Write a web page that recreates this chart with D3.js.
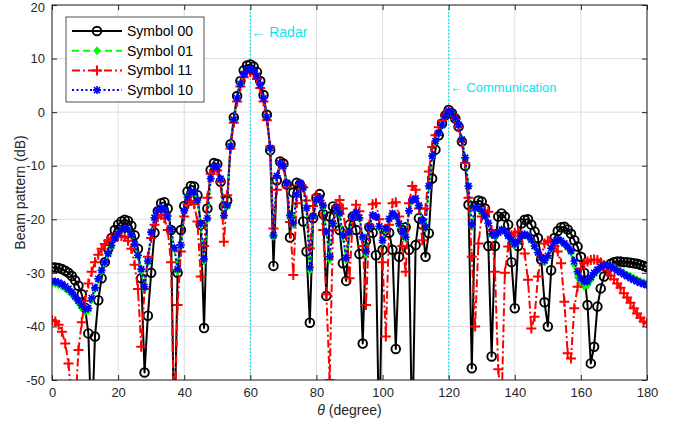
<!DOCTYPE html>
<html><head><meta charset="utf-8">
<script src="https://cdn.jsdelivr.net/npm/d3@7"></script>
<style>
html,body{margin:0;padding:0;background:#fff;}
svg{display:block;}
text{font-family:"Liberation Sans",Arial,sans-serif;}
</style></head>
<body>
<svg id="chart" width="680" height="424"></svg>
<script>
// ---------- data ----------
const thetaDeg = d3.range(0, 181, 1);
const xTicks = [0,20,40,60,80,100,120,140,160,180];
const yTicks = [20,10,0,-10,-20,-30,-40,-50];
const seriesNames = ["Symbol 00","Symbol 01","Symbol 11","Symbol 10"];
const annotations = [{x:60,label:"\u2190 Radar"},{x:120,label:"\u2190 Communication"}];

const s00 = [-29.0,-29.0,-29.1,-29.3,-29.6,-30.0,-30.6,-31.4,-32.4,-34.0,
-36.5,-41.3,-60,-41.9,-35.1,-31.0,-28.0,-25.5,-23.5,-22.0,
-21.0,-20.4,-20.1,-20.3,-21.2,-23.0,-25.5,-31.0,-48.6,-38.0,
-30.0,-22.5,-18.5,-17.0,-16.8,-18.0,-22.0,-62,-30.0,-22.0,
-17.5,-14.8,-13.8,-13.9,-15.5,-21.0,-40.3,-18.0,-10.8,-9.5,
-9.7,-13.0,-17.6,-16.5,-6.0,-1.0,3.0,5.8,7.8,8.7,
8.9,8.5,7.5,5.8,3.2,-0.5,-7.1,-28.7,-12.7,-9.2,
-9.6,-13.5,-23.4,-15.0,-13.2,-13.5,-20.4,-26.0,-39.3,-19.8,
-16.0,-15.3,-19.0,-34.3,-19.5,-17.6,-18.0,-22.0,-28.2,-31.5,
-21.0,-19.5,-22.0,-26.5,-43.2,-24.0,-21.5,-22.5,-26.7,-62,
-25.7,-22.0,-22.5,-25.7,-44.2,-27.0,-22.0,-21.5,-25.7,-62,
-24.8,-19.8,-21.0,-27.0,-22.6,-12.4,-7.0,-4.3,-2.1,-0.6,
0.4,-0.2,-1.2,-2.7,-5.5,-10.0,-17.3,-47.8,-17.5,-16.5,
-16.7,-18.0,-25.0,-45.6,-25.0,-19.5,-18.9,-19.5,-21.0,-28.0,
-36.6,-25.0,-20.8,-20.1,-20.0,-21.0,-22.3,-23.5,-27.5,-35.5,
-40.0,-29.5,-23.5,-22.2,-21.5,-21.4,-21.9,-22.7,-23.9,-25.1,
-27.0,-30.0,-36.0,-46.9,-43.8,-36.3,-32.9,-30.7,-29.2,-28.3,
-28.0,-27.9,-27.9,-28.0,-28.0,-28.1,-28.2,-28.3,-28.5,-28.7,-28.9];

const s01 = [-32.0,-32.0,-32.2,-32.5,-32.9,-33.4,-34.0,-34.8,-35.6,-36.5,
-37.2,-37.0,-35.0,-33.0,-31.3,-29.7,-28.2,-26.5,-25.0,-23.7,
-22.7,-22.0,-21.8,-22.0,-23.0,-24.7,-26.8,-29.5,-33.0,-28.0,
-22.5,-19.8,-18.4,-18.0,-18.3,-19.5,-22.0,-25.5,-29.7,-25.0,
-18.5,-16.0,-15.0,-15.0,-16.5,-21.0,-27.8,-20.0,-12.5,-10.3,
-10.3,-12.5,-19.5,-17.5,-6.5,-1.5,2.5,5.2,7.0,7.8,
8.0,7.6,6.7,5.0,2.5,-1.0,-6.8,-23.2,-12.0,-9.6,
-10.2,-13.3,-19.5,-21.0,-15.5,-13.3,-14.2,-18.0,-29.5,-19.5,
-16.5,-16.1,-17.5,-22.5,-27.5,-21.0,-18.0,-19.0,-23.2,-27.6,
-22.5,-19.5,-18.8,-19.8,-23.5,-26.5,-21.5,-19.3,-19.6,-21.5,
-24.2,-22.0,-20.0,-19.0,-19.5,-21.0,-22.5,-23.6,-18.5,-16.5,
-16.2,-17.5,-20.4,-21.7,-13.9,-8.3,-5.5,-4.0,-2.5,-0.8,
0.1,-0.3,-1.2,-2.4,-5.2,-8.6,-13.9,-21.4,-18.0,-18.0,
-18.6,-19.5,-20.8,-22.9,-23.2,-22.6,-22.0,-22.3,-23.2,-23.9,
-24.8,-24.2,-23.2,-22.9,-23.2,-23.9,-25.1,-26.4,-27.3,-28.0,
-27.0,-25.5,-24.3,-23.9,-24.1,-24.6,-25.3,-26.2,-28.5,-30.8,
-32.0,-32.5,-32.3,-31.3,-30.3,-29.5,-29.0,-28.6,-28.5,-28.7,
-29.0,-29.4,-29.7,-30.0,-30.4,-30.7,-31.0,-31.3,-31.6,-31.8,-32.0];

const s11 = [-38.8,-39.1,-39.7,-41.0,-43.2,-46.9,-55,-56,-44.4,-39.2,
-35.2,-32.0,-29.8,-28.0,-26.6,-25.5,-24.6,-24.0,-23.6,-23.3,
-23.1,-23.1,-23.3,-24.0,-25.5,-28.5,-33.0,-43.8,-33.0,-27.0,
-23.5,-21.0,-19.6,-19.2,-19.8,-22.0,-28.0,-60,-36.0,-26.0,
-19.5,-17.2,-16.6,-17.2,-20.4,-30.7,-25.0,-16.0,-11.5,-10.8,
-10.9,-13.0,-24.2,-15.5,-6.8,-2.0,2.0,4.8,6.5,7.3,
7.5,7.1,6.2,4.5,2.0,-1.5,-6.4,-21.7,-14.5,-9.5,
-10.0,-14.0,-20.5,-30.4,-17.0,-13.6,-14.0,-16.5,-25.4,-17.5,
-15.5,-16.5,-22.0,-34.0,-50.0,-22.0,-17.5,-16.4,-18.0,-23.0,
-31.0,-20.0,-17.3,-18.5,-25.0,-36.0,-21.0,-17.2,-17.0,-20.0,
-28.0,-41.9,-21.0,-17.0,-16.8,-19.5,-25.0,-29.8,-17.0,-13.8,
-14.5,-18.0,-23.9,-18.0,-11.1,-6.5,-4.3,-2.8,-1.6,-0.4,
0.2,-0.3,-1.3,-2.8,-5.5,-9.5,-16.0,-27.0,-40.0,-24.5,
-19.5,-18.3,-18.6,-22.0,-29.8,-48,-55,-30.0,-25.1,-23.0,
-22.5,-22.3,-23.2,-26.4,-31.3,-40.4,-38.2,-30.7,-27.0,-24.5,
-24.0,-24.3,-25.0,-26.0,-28.2,-35.4,-45.0,-46.0,-36.6,-32.6,
-29.2,-28.2,-27.9,-27.6,-27.5,-27.6,-28.0,-28.6,-29.5,-30.5,
-31.2,-32.0,-32.8,-33.8,-34.6,-35.6,-36.6,-37.6,-38.4,-39.1,-39.4];

const s10 = [-31.6,-31.6,-31.8,-32.1,-32.5,-33.0,-33.6,-34.4,-35.2,-36.1,
-36.8,-36.6,-34.7,-32.8,-31.1,-29.5,-28.0,-26.4,-24.9,-23.6,
-22.6,-21.9,-21.7,-21.9,-22.9,-24.6,-26.7,-29.3,-32.6,-27.8,
-22.4,-19.7,-18.3,-17.9,-18.2,-19.4,-21.9,-25.3,-29.3,-24.8,
-18.4,-15.9,-14.9,-14.9,-16.4,-20.8,-27.4,-19.8,-12.4,-10.2,
-10.2,-12.4,-19.3,-17.4,-6.4,-1.4,2.6,5.3,7.1,7.9,
8.1,7.7,6.8,5.1,2.6,-0.9,-6.7,-23.0,-11.9,-9.5,
-10.1,-13.2,-19.3,-20.7,-15.4,-13.2,-14.1,-17.9,-29.0,-19.4,
-16.4,-16.0,-17.4,-22.3,-27.0,-20.8,-17.9,-18.9,-23.0,-27.2,
-22.3,-19.4,-18.7,-19.7,-23.3,-26.0,-21.4,-19.2,-19.5,-21.3,
-23.9,-21.8,-19.9,-18.9,-19.4,-20.8,-22.3,-23.3,-18.4,-16.4,
-16.1,-17.4,-20.2,-21.5,-13.8,-8.2,-5.4,-3.9,-2.4,-0.7,
0.2,-0.2,-1.1,-2.3,-5.1,-8.5,-13.8,-21.0,-17.9,-17.9,
-18.5,-19.4,-20.7,-22.7,-23.0,-22.5,-21.9,-22.2,-23.1,-23.8,
-24.6,-24.1,-23.1,-22.8,-23.1,-23.8,-25.0,-26.2,-27.1,-27.7,
-26.8,-25.4,-24.2,-23.8,-24.0,-24.5,-25.1,-25.9,-27.8,-29.8,
-31.0,-31.6,-31.6,-30.8,-30.0,-29.4,-28.9,-28.6,-28.5,-28.8,
-29.2,-29.6,-29.9,-30.3,-30.6,-31.0,-31.3,-31.6,-31.9,-32.1,-32.3];

// ---------- layout ----------
const L = 52, R = 647, T = 5, B = 380;
const svg = d3.select("#chart");
const x = d3.scaleLinear().domain([0,180]).range([L,R]);
const y = d3.scaleLinear().domain([-50,20]).range([B,T]);
const axisCol = "#262626";
const cyan = "#00e8f4";

// grid
const g = svg.append("g");
g.selectAll(".gx").data(xTicks).join("line")
  .attr("x1",d=>x(d)).attr("x2",d=>x(d)).attr("y1",T).attr("y2",B)
  .attr("stroke","#dedede").attr("stroke-width",1);
g.selectAll(".gy").data(yTicks).join("line")
  .attr("x1",L).attr("x2",R).attr("y1",d=>y(d)).attr("y2",d=>y(d))
  .attr("stroke","#dedede").attr("stroke-width",1);

// clip
svg.append("clipPath").attr("id","clip").append("rect")
  .attr("x",L).attr("y",T).attr("width",R-L).attr("height",B-T);

// annotation lines
svg.append("g").selectAll("line").data(annotations).join("line")
  .attr("x1",d=>x(d.x)).attr("x2",d=>x(d.x)).attr("y1",T).attr("y2",B)
  .attr("stroke",cyan).attr("stroke-width",1.4).attr("stroke-dasharray","1.5,2");

const series = [
  {name:seriesNames[0], vals:s00, color:"#000000", dash:null, marker:"circle"},
  {name:seriesNames[1], vals:s01, color:"#00ff00", dash:"7,4", marker:"diamond"},
  {name:seriesNames[2], vals:s11, color:"#ff0000", dash:"8,3,2,3", marker:"plus"},
  {name:seriesNames[3], vals:s10, color:"#0000ff", dash:"2,2.5", marker:"star"}
];

function drawMarker(sel, type, color){
  if(type==="circle"){
    sel.append("circle").attr("r",4.3).attr("fill","none").attr("stroke",color).attr("stroke-width",1.9);
  } else if(type==="diamond"){
    sel.append("path").attr("d","M0,-4L3.2,0L0,4L-3.2,0Z").attr("fill",color).attr("stroke",color).attr("stroke-width",1);
  } else if(type==="plus"){
    sel.append("path").attr("d","M-5,0H5M0,-5V5").attr("stroke",color).attr("stroke-width",2).attr("fill","none");
  } else {
    sel.append("path").attr("d","M-4,0H4M0,-4V4M-3,-3L3,3M-3,3L3,-3").attr("stroke",color).attr("stroke-width",1.6).attr("fill","none");
  }
}

const line = d3.line().x((d,i)=>x(thetaDeg[i])).y(d=>y(d));
const plot = svg.append("g").attr("clip-path","url(#clip)");
series.forEach(s=>{
  plot.append("path").attr("d",line(s.vals)).attr("fill","none")
    .attr("stroke",s.color).attr("stroke-width",2)
    .attr("stroke-dasharray",s.dash).attr("stroke-linejoin","round");
  const pts = s.vals.map((v,i)=>({t:thetaDeg[i],v})).filter(p=>p.v>=-50 && p.v<=20);
  plot.append("g").selectAll("g").data(pts).join("g")
    .attr("transform",d=>`translate(${x(d.t)},${y(d.v)})`)
    .each(function(){drawMarker(d3.select(this),s.marker,s.color);});
});

// axes box
svg.append("rect").attr("x",L).attr("y",T).attr("width",R-L).attr("height",B-T)
  .attr("fill","none").attr("stroke",axisCol).attr("stroke-width",1);
const fmt = d=>String(d);
const xb = d3.axisBottom(x).tickValues(xTicks).tickSize(-5).tickPadding(8).tickFormat(fmt);
const xt = d3.axisTop(x).tickValues(xTicks).tickSize(-5).tickFormat("");
const yl = d3.axisLeft(y).tickValues(yTicks).tickSize(-5).tickPadding(7).tickFormat(fmt);
const yr = d3.axisRight(y).tickValues(yTicks).tickSize(-5).tickFormat("");
function style(a){a.select(".domain").remove();a.selectAll("line").attr("stroke",axisCol);
  a.selectAll("text").attr("fill",axisCol).style("font-size","13px").style("font-family","'Liberation Sans',Arial,sans-serif");}
svg.append("g").attr("transform",`translate(0,${B})`).call(xb).call(style);
svg.append("g").attr("transform",`translate(0,${T})`).call(xt).call(style);
const yAxisG = svg.append("g").attr("transform",`translate(${L},0)`).call(yl).call(style);
// keep the top label fully inside the page
yAxisG.selectAll(".tick text").filter(d=>d===20).attr("dy","0.5em");
svg.append("g").attr("transform",`translate(${R},0)`).call(yr).call(style);

// axis labels
const xl = svg.append("text").attr("x",(L+R)/2).attr("y",415).attr("text-anchor","middle")
  .attr("fill",axisCol).style("font-size","14px");
xl.append("tspan").style("font-style","italic").text("\u03b8");
xl.append("tspan").text(" (degree)");
svg.append("text").attr("transform",`translate(25,${(T+B)/2}) rotate(-90)`)
  .attr("text-anchor","middle").attr("fill",axisCol).style("font-size","14px").text("Beam pattern (dB)");

// annotation text
svg.append("text").attr("x",x(60)+1).attr("y",37).attr("fill",cyan).style("font-size","14px").text(annotations[0].label);
svg.append("text").attr("x",x(120)+1).attr("y",92).attr("fill",cyan).style("font-size","13px").text(annotations[1].label);

// legend
const lg = svg.append("g");
lg.append("rect").attr("x",66).attr("y",17).attr("width",138).attr("height",85)
  .attr("fill","#fff").attr("stroke",axisCol).attr("stroke-width",0.8);
series.forEach((s,i)=>{
  const cy = 31 + i*19.7;
  lg.append("line").attr("x1",72).attr("x2",122).attr("y1",cy).attr("y2",cy)
    .attr("stroke",s.color).attr("stroke-width",2).attr("stroke-dasharray",s.dash);
  const m = lg.append("g").attr("transform",`translate(97,${cy})`);
  drawMarker(m,s.marker,s.color);
  lg.append("text").attr("x",127).attr("y",cy+5).attr("fill","#000").style("font-size","14px").text(s.name);
});
</script>
</body></html>
